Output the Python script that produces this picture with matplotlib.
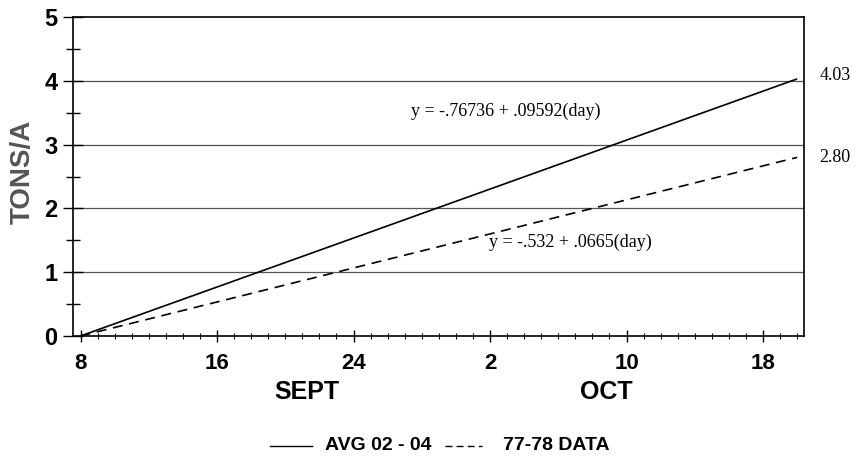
import numpy as np
import matplotlib.pyplot as plt
from matplotlib.lines import Line2D

# day numbers (Sept 8 = 8, Oct 2 = 32 ...)
days = [8, 50]
avg_02_04 = [0.0, 4.03]
data_77_78 = [0.0, 2.80]

tick_days = [8, 16, 24, 32, 40, 48]
tick_labels = ['8', '16', '24', '2', '10', '18']
y_ticks = [0, 1, 2, 3, 4, 5]

eq_avg = 'y = -.76736 + .09592(day)'
eq_old = 'y = -.532 + .0665(day)'

plt.rcParams['font.family'] = ['Liberation Sans', 'DejaVu Sans']

fig = plt.figure(figsize=(8.58, 4.59), dpi=100)
# axes box: left spine x=73, right 804, top y=17, bottom y=336 (pixels)
ax = fig.add_axes([73 / 858, 1 - 336 / 459, 731 / 858, 319 / 459])

ax.plot(days, avg_02_04, color='black', lw=1.2, solid_capstyle='butt')
ax.plot(days, data_77_78, color='black', lw=1.2, ls=(0, (6, 4)))

ax.set_xlim(7.56, 50.4)
ax.set_ylim(0, 5)

for y in y_ticks[1:5]:
    ax.axhline(y, color='#555555', lw=0.9, zorder=0)

ax.set_yticks(y_ticks)
ax.set_yticks(np.arange(0.5, 5, 1), minor=True)
ax.set_yticklabels([str(v) for v in y_ticks], fontsize=17, fontweight='bold')
ax.tick_params(axis='y', which='major', direction='inout', length=14, width=1, pad=4)
ax.tick_params(axis='y', which='minor', direction='inout', length=10, width=1)

ax.set_xticks(tick_days)
ax.set_xticks(np.arange(8, 51, 1), minor=True)
ax.set_xticklabels(tick_labels, fontsize=16, fontweight='bold')
ax.tick_params(axis='x', which='major', direction='inout', length=8, width=1, pad=8)
ax.tick_params(axis='x', which='minor', direction='inout', length=5, width=0.8)

for s in ax.spines.values():
    s.set_linewidth(1.2)

fig.text(23 / 858, 1 - 172 / 459, 'TONS/A', fontsize=20, fontweight='bold', color='#555555',
         rotation=90, ha='center', va='center')

ax.text(32.9, 3.52, eq_avg, family='Liberation Serif', fontsize=13, ha='center', va='center')
ax.text(36.7, 1.47, eq_old, family='Liberation Serif', fontsize=13, ha='center', va='center')

ax.text(51.3, avg_02_04[1] + 0.06, '%.2f' % avg_02_04[1], family='Liberation Serif',
        fontsize=13, ha='left', va='center', clip_on=False)
ax.text(51.3, data_77_78[1], '%.2f' % data_77_78[1], family='Liberation Serif',
        fontsize=13, ha='left', va='center', clip_on=False)

fig.text(307 / 858, 1 - 392 / 459, 'SEPT', fontsize=18, fontweight='bold', ha='center', va='center')
fig.text(606 / 858, 1 - 392 / 459, 'OCT', fontsize=18, fontweight='bold', ha='center', va='center')

# legend
ly = 1 - 446 / 459
fig.add_artist(Line2D([270 / 858, 312 / 858], [ly, ly], color='black', lw=1))
fig.text(325 / 858, ly, 'AVG 02 - 04', fontsize=14, fontweight='bold', va='center')
fig.add_artist(Line2D([445 / 858, 482 / 858], [ly, ly], color='black', lw=1, ls=(0, (5, 3))))
fig.text(503 / 858, ly, '77-78 DATA', fontsize=14, fontweight='bold', va='center')

fig.savefig('out.png', dpi=100)
